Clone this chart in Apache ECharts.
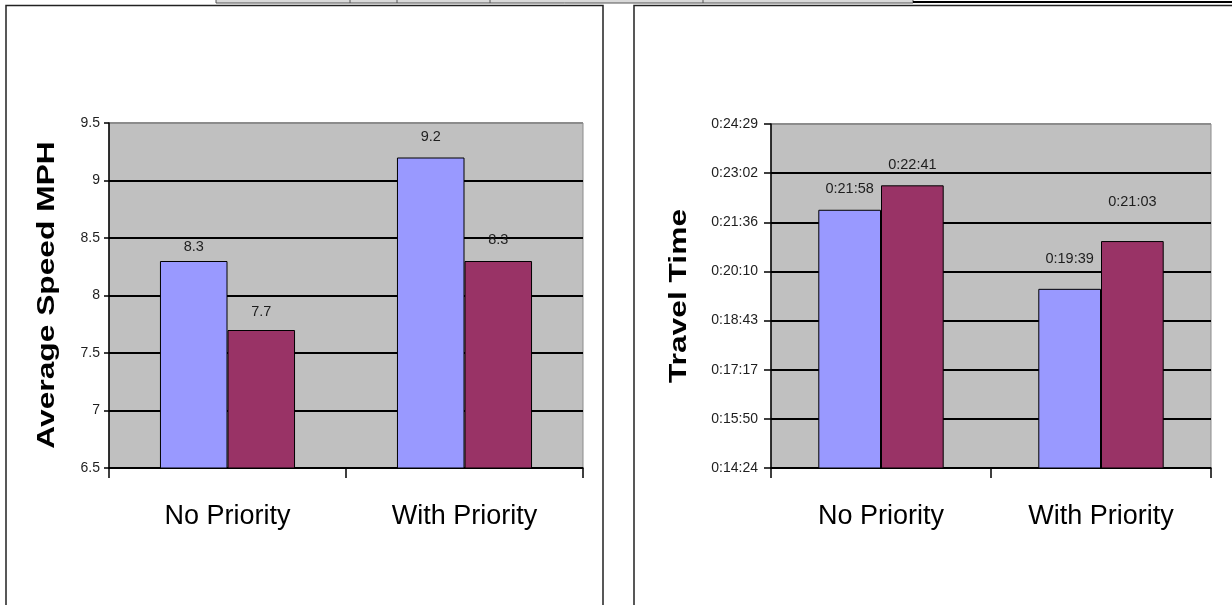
<!DOCTYPE html>
<html>
<head>
<meta charset="utf-8">
<script src="https://cdn.jsdelivr.net/npm/echarts@6/dist/echarts.min.js"></script>
<style>
  html, body { margin: 0; padding: 0; background: #fff; }
  #chart { width: 1232px; height: 605px; }
</style>
</head>
<body>
<div id="chart"></div>
<script>
// Categories shared by both panels
const categories = ['No Priority', 'With Priority'];

// Average speed (MPH)
const speedSeries1 = [8.3, 9.2];
const speedSeries2 = [7.7, 8.3];
const speedTicks = [6.5, 7, 7.5, 8, 8.5, 9, 9.5];

// Travel time (h:mm:ss)
const timeSeries1 = ['0:21:58', '0:19:39'];
const timeSeries2 = ['0:22:41', '0:21:03'];
// Time axis runs in fractions of a day: 0.010 day = 0:14:24
const timeTicksDays = [0.010, 0.011, 0.012, 0.013, 0.014, 0.015, 0.016, 0.017];

const SECONDS_PER_DAY = 86400;
function toSeconds(str) {
  const p = str.split(':').map(Number);
  return p[0] * 3600 + p[1] * 60 + p[2];
}
function toDays(str) { return toSeconds(str) / SECONDS_PER_DAY; }
function fmtTime(days) {
  const s = Math.round(days * SECONDS_PER_DAY);
  const h = Math.floor(s / 3600);
  const m = Math.floor((s % 3600) / 60);
  const sec = s % 60;
  return h + ':' + String(m).padStart(2, '0') + ':' + String(sec).padStart(2, '0');
}

const FONT = '"Liberation Sans", Arial, sans-serif';
const BLUE = '#9999FF';
const PLUM = '#993366';
const PLOT_BG = '#C0C0C0';

// label gap above each bar (px), per panel / series / category
const labelGap = {
  speed1: [7, 13], speed2: [11, 14],
  time1: [13, 22], time2: [13, 32]
};

function gridLines(n) {
  const c = [];
  for (let i = 0; i < n - 1; i++) c.push('#000');
  c.push('#8c8c8c');
  return c;
}

function barSeries(values, color, xi, gaps, fmt) {
  return {
    type: 'bar',
    xAxisIndex: xi,
    yAxisIndex: xi,
    barGap: '0%',
    barCategoryGap: '43%',
    itemStyle: { color: color, borderColor: '#000', borderWidth: 1 },
    data: values.map((v, i) => ({
      value: v,
      label: { distance: gaps[i] }
    })),
    label: {
      show: true,
      position: 'top',
      fontFamily: FONT,
      fontSize: 14.5,
      color: '#1e1e1e',
      formatter: p => fmt(p.value)
    },
    animation: false
  };
}

const xAxisCommon = {
  type: 'category',
  data: categories,
  axisLine: { lineStyle: { color: '#000', width: 1.5 } },
  axisTick: { show: true, length: 10, lineStyle: { color: '#000', width: 1.5 } },
  axisLabel: { fontFamily: FONT, fontSize: 27, color: '#000', margin: 35 },
  splitLine: { show: false }
};

const chart = echarts.init(document.getElementById('chart'));
chart.setOption({
  backgroundColor: '#fff',
  animation: false,
  grid: [
    { left: 109, right: 649, top: 123, bottom: 137, show: true,
      backgroundColor: PLOT_BG, borderColor: '#8c8c8c', borderWidth: 1 },
    { left: 771, right: 21, top: 124, bottom: 137, show: true,
      backgroundColor: PLOT_BG, borderColor: '#8c8c8c', borderWidth: 1 }
  ],
  xAxis: [
    Object.assign({ gridIndex: 0 }, xAxisCommon),
    Object.assign({ gridIndex: 1 }, xAxisCommon)
  ],
  yAxis: [
    {
      gridIndex: 0, type: 'value',
      min: speedTicks[0], max: speedTicks[speedTicks.length - 1],
      interval: speedTicks[1] - speedTicks[0],
      axisLine: { show: true, lineStyle: { color: '#000', width: 1.5 } },
      axisTick: { show: true, length: 5, lineStyle: { color: '#000', width: 1.5 } },
      axisLabel: { fontFamily: FONT, fontSize: 14, color: '#1e1e1e', margin: 9 },
      splitLine: { show: true, lineStyle: { color: gridLines(speedTicks.length), width: 2 } }
    },
    {
      gridIndex: 1, type: 'value',
      min: timeTicksDays[0], max: timeTicksDays[timeTicksDays.length - 1],
      interval: 0.001,
      axisLine: { show: true, lineStyle: { color: '#000', width: 1.5 } },
      axisTick: { show: true, length: 7, lineStyle: { color: '#000', width: 1.5 } },
      axisLabel: { fontFamily: FONT, fontSize: 14, color: '#1e1e1e', margin: 13,
        formatter: v => fmtTime(v) },
      splitLine: { show: true, lineStyle: { color: gridLines(timeTicksDays.length), width: 2 } }
    }
  ],
  series: [
    barSeries(speedSeries1, BLUE, 0, labelGap.speed1, v => String(v)),
    barSeries(speedSeries2, PLUM, 0, labelGap.speed2, v => String(v)),
    barSeries(timeSeries1.map(toDays), BLUE, 1, labelGap.time1, fmtTime),
    barSeries(timeSeries2.map(toDays), PLUM, 1, labelGap.time2, fmtTime)
  ],
  graphic: [
    // page frames around the two panels
    { type: 'rect', shape: { x: 6, y: 5.5, width: 597, height: 640 },
      style: { fill: 'none', stroke: '#222', lineWidth: 1.5 }, silent: true },
    { type: 'rect', shape: { x: 634, y: 5.5, width: 640, height: 640 },
      style: { fill: 'none', stroke: '#222', lineWidth: 1.5 }, silent: true },
    // bottom edge of the table above
    { type: 'rect', shape: { x: 216, y: -3, width: 697, height: 6 },
      style: { fill: '#d9d9d9', stroke: '#555', lineWidth: 1 }, silent: true },
    { type: 'line', shape: { x1: 350, y1: 0, x2: 350, y2: 3 }, style: { stroke: '#555', lineWidth: 1 } },
    { type: 'line', shape: { x1: 397, y1: 0, x2: 397, y2: 3 }, style: { stroke: '#555', lineWidth: 1 } },
    { type: 'line', shape: { x1: 490, y1: 0, x2: 490, y2: 3 }, style: { stroke: '#555', lineWidth: 1 } },
    { type: 'line', shape: { x1: 703, y1: 0, x2: 703, y2: 3 }, style: { stroke: '#555', lineWidth: 1 } },
    { type: 'line', shape: { x1: 913, y1: 2, x2: 1232, y2: 2 }, style: { stroke: '#000', lineWidth: 2 } },
    // axis titles
    { type: 'text', x: 48, y: 295, rotation: Math.PI / 2, scaleX: 1.38,
      style: { text: 'Average Speed MPH', x: 0, y: 0, align: 'center', verticalAlign: 'middle',
        font: 'bold 23px ' + FONT, fill: '#000' } },
    { type: 'text', x: 680, y: 296, rotation: Math.PI / 2, scaleX: 1.38,
      style: { text: 'Travel Time', x: 0, y: 0, align: 'center', verticalAlign: 'middle',
        font: 'bold 23px ' + FONT, fill: '#000' } }
  ]
});
</script>
</body>
</html>
